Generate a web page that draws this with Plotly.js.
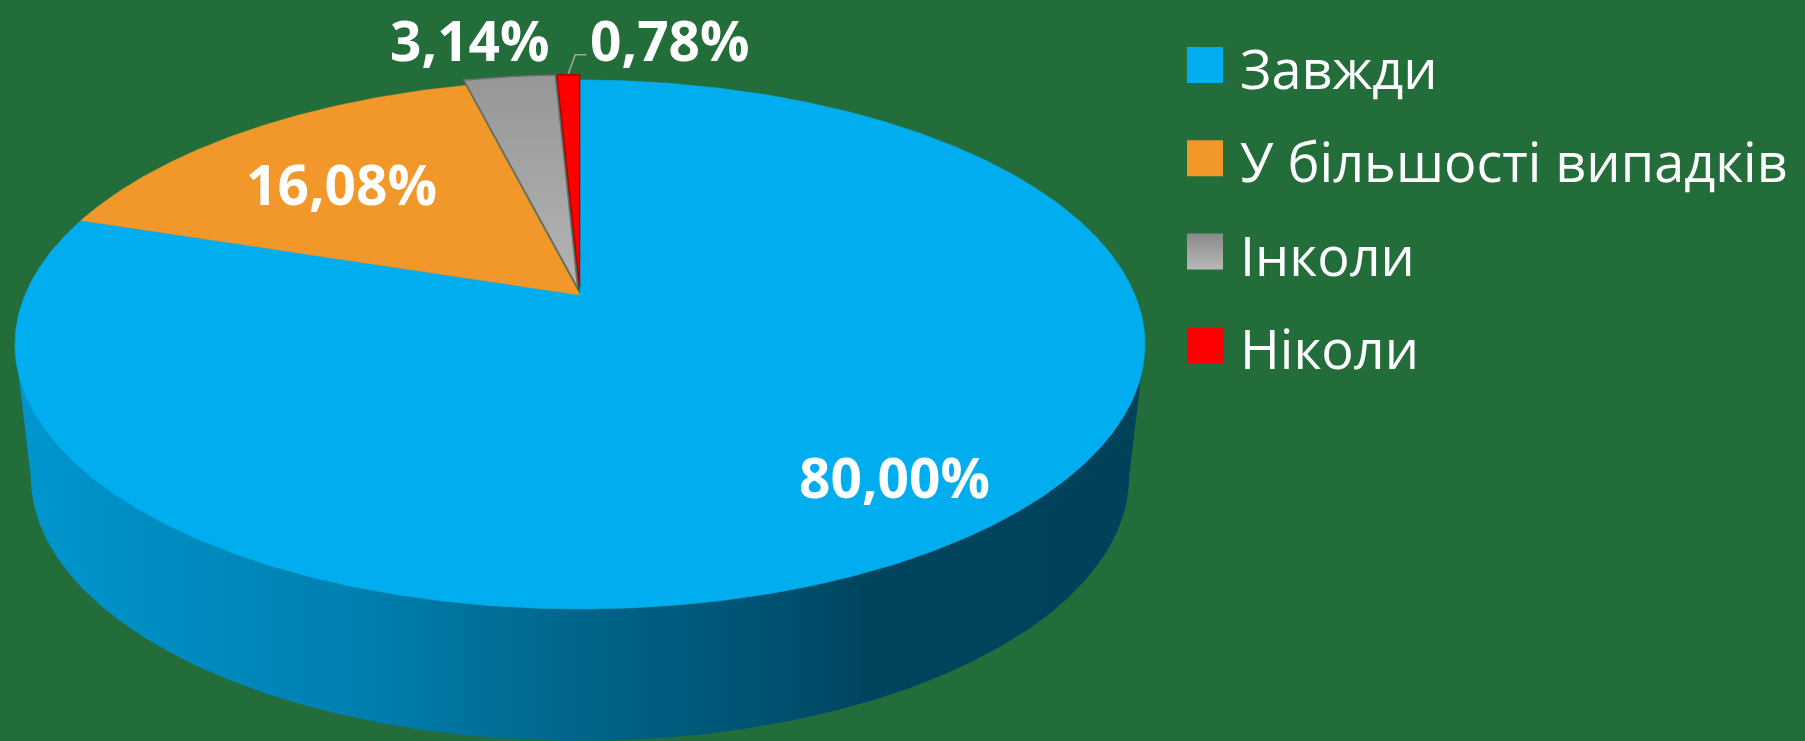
<!DOCTYPE html>
<html>
<head>
<meta charset="utf-8">
<script src="https://cdn.plot.ly/plotly-3.0.1.min.js"></script>
<style>html,body{margin:0;padding:0;background:#236d3b;}#chart{width:1805px;height:741px;}</style>
</head>
<body>
<div id="chart"></div>
<script>
// ---- data ----
const categories = ['Завжди', 'У більшості випадків', 'Інколи', 'Ніколи'];
const values = [80.00, 16.08, 3.14, 0.78];
const colors = ['#00AEEF', '#F2982A', '#A9A9A9', '#FF0000'];

// ---- styling / geometry (layout constants) ----
const BG = '#236d3b';
const W = 1805, H = 741;
const CX = 580, CY = 295, A = 555, D = 200, G = -0.1871; // perspective projection of the pie disc
const DEPTH = 132, SHRINK = 0.972;                      // 3D side
const explode = [0, 0, 0.03, 0.03];
const lineColors = [null, null, '#6e6e6e', '#b00000'];
const topGradients = [null, null, [[0, '#b4b4b4'], [1, '#969696']], null];
const sideScales = [
  [[0, '#0096D0'], [0.3, '#0080B0'], [0.5, '#00658B'], [0.68, '#00506F'], [0.76, '#00445E'], [1, '#00425A']],
  [[0, '#c87a1e'], [1, '#7a4a10']],
  [[0, '#8a8a8a'], [1, '#505050']],
  [[0, '#c00000'], [1, '#700000']]
];
const labelPos = [[894, 476], [341, 183], [470, 39], [670, 39]];
const legendX = 1187, legendTextX = 1238, legendY0 = 65, legendDY = 93.3, swatch = 36;

function project(u, v) {
  const den = 1 + G * v;
  return [CX + A * u / den, (D * v + CY) / den];
}
const rad = d => d * Math.PI / 180;

const traces = [];
const total = values.reduce((a, b) => a + b, 0);

// slice angle ranges (clockwise from 12 o'clock)
const ranges = [];
let cum = 0;
values.forEach(v => { const a1 = cum / total * 360; cum += v; ranges.push([a1, cum / total * 360]); });

// visible front side range
const thR = Math.acos(G) * 180 / Math.PI;
const thL = 360 - thR;

function arc(a1, a2, eu, ev) {
  const pts = [];
  const n = Math.max(2, Math.ceil((a2 - a1) / 0.5));
  for (let k = 0; k <= n; k++) {
    const t = rad(a1 + (a2 - a1) * k / n);
    pts.push(project(Math.sin(t) + eu, -Math.cos(t) + ev));
  }
  return pts;
}

// sides (drawn first)
ranges.forEach((r, i) => {
  const a1 = Math.max(r[0], thR), a2 = Math.min(r[1], thL);
  if (a2 <= a1) return;
  const tm = rad((r[0] + r[1]) / 2);
  const eu = explode[i] * Math.sin(tm), ev = -explode[i] * Math.cos(tm);
  const top = arc(a1, a2, eu, ev);
  const bot = top.map(p => [CX + (p[0] - CX) * SHRINK, p[1] + DEPTH]).reverse();
  const pts = top.concat(bot);
  traces.push({
    type: 'scatter', mode: 'lines', x: pts.map(p => p[0]), y: pts.map(p => p[1]),
    fill: 'toself', line: {width: 0}, fillcolor: colors[i],
    fillgradient: {type: 'horizontal', colorscale: sideScales[i]},
    hoverinfo: 'skip', showlegend: false
  });
});

// top faces
ranges.forEach((r, i) => {
  const tm = rad((r[0] + r[1]) / 2);
  const eu = explode[i] * Math.sin(tm), ev = -explode[i] * Math.cos(tm);
  const pts = [project(eu, ev)].concat(arc(r[0], r[1], eu, ev));
  pts.push(project(eu, ev));
  const tr = {
    type: 'scatter', mode: 'lines', x: pts.map(p => p[0]), y: pts.map(p => p[1]),
    fill: 'toself', fillcolor: colors[i],
    line: {width: lineColors[i] ? 1.3 : 0.6, color: lineColors[i] || colors[i]},
    hoverinfo: 'skip', showlegend: false, name: categories[i]
  };
  if (topGradients[i]) tr.fillgradient = {type: 'vertical', colorscale: topGradients[i]};
  traces.push(tr);
});

// legend swatches
categories.forEach((c, i) => {
  const y = legendY0 + i * legendDY, h = swatch / 2;
  const xs = [legendX, legendX + swatch, legendX + swatch, legendX, legendX];
  const ys = [y - h, y - h, y + h, y + h, y - h];
  const tr = {
    type: 'scatter', mode: 'lines', x: xs, y: ys, fill: 'toself', fillcolor: colors[i],
    line: {width: 0}, hoverinfo: 'skip', showlegend: false
  };
  if (i === 2) tr.fillgradient = {type: 'vertical', colorscale: [[0, '#b8b8b8'], [1, '#8a8a8a']]};
  traces.push(tr);
});

const fmt = v => v.toFixed(2).replace('.', ',') + '%';

const annotations = [];
values.forEach((v, i) => {
  annotations.push({
    x: labelPos[i][0], y: labelPos[i][1], xref: 'x', yref: 'y', text: fmt(v), showarrow: false,
    xanchor: 'center', yanchor: 'middle', borderpad: 0,
    font: {family: 'Open Sans, Noto Sans, sans-serif', size: 55, color: '#ffffff', weight: 700}
  });
});
categories.forEach((c, i) => {
  annotations.push({
    x: legendTextX, y: legendY0 + i * legendDY + 3, xref: 'x', yref: 'y', text: c, showarrow: false,
    xanchor: 'left', yanchor: 'middle',
    font: {family: 'Open Sans, Noto Sans, sans-serif', size: 54, color: '#ffffff'}
  });
});

// leader line for the smallest slice
const rl = ranges[3], tml = rad((rl[0] + rl[1]) / 2);
const lp = project(Math.sin(tml) * (1 + explode[3]), -Math.cos(tml) * (1 + explode[3]));
const shapes = [{
  type: 'path', xref: 'x', yref: 'y',
  path: `M${lp[0]},${lp[1] - 1} L${lp[0] + 7},${lp[1] - 20} L${lp[0] + 18},${lp[1] - 20}`,
  line: {color: '#a6a6a6', width: 1.5}
}];

const layout = {
  width: W, height: H, margin: {l: 0, r: 0, t: 0, b: 0},
  paper_bgcolor: BG, plot_bgcolor: BG, showlegend: false,
  xaxis: {range: [0, W], visible: false, fixedrange: true},
  yaxis: {range: [H, 0], visible: false, fixedrange: true},
  annotations: annotations, shapes: shapes
};

Plotly.newPlot('chart', traces, layout, {displayModeBar: false, staticPlot: true});
</script>
</body>
</html>
